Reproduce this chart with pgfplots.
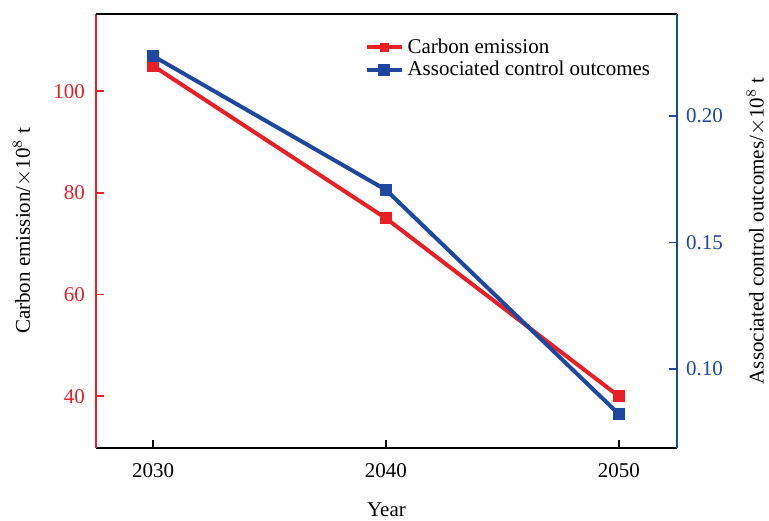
\documentclass[border=0pt]{standalone}
\usepackage{pgfplots}
\pgfplotsset{compat=1.18}
\usepackage{fontspec}
\setmainfont{Liberation Serif}

\definecolor{cred}{RGB}{232,32,38}
\definecolor{cblue}{RGB}{30,72,160}

\pgfplotsset{
  dualbase/.style={
    scale only axis,
    width=290.5pt, height=217pt,
    xmin=2027.55, xmax=2052.5,
    tick align=inside,
    major tick length=4pt,
    /pgf/number format/assume math mode=true,
    font=\fontsize{10.5}{12}\selectfont,
    tick label style={font=\fontsize{10.5}{12}\selectfont},
    label style={font=\fontsize{10.5}{12}\selectfont},
  }
}

\begin{document}
\begin{tikzpicture}
% Left axis: carbon emission (red)
\begin{axis}[
  dualbase,
  separate axis lines,
  axis x line*=box,
  axis y line*=left,
  x axis line style={black, line width=1pt},
  y axis line style={cred, line width=1pt},
  xtick={2030,2040,2050},
  xticklabels={2030,2040,2050},
  x tick style={black, line width=0.8pt},
  xtick pos=bottom,
  x tick label style={yshift=-4pt},
  ymin=29.8, ymax=115.2,
  ytick={40,60,80,100},
  y tick style={cred, line width=0.8pt},
  y tick label style={cred, xshift=-2pt},
  xlabel={Year},
  ylabel={Carbon emission/$\times$10$^{8}$ t},
  every axis x label/.style={at={(axis description cs:0.5,-0.143)}, anchor=center},
  every axis y label/.style={at={(axis description cs:-0.127,0.5)}, rotate=90, anchor=center},
]
\addplot[cred, line width=2pt, mark=square*, mark size=2pt, mark options={solid}]
  coordinates {(2030,105) (2040,75) (2050,40)};
\draw[black, line width=1pt] (rel axis cs:0,1) -- (rel axis cs:1,1);
\end{axis}
% Right axis: associated control outcomes (blue)
\begin{axis}[
  dualbase,
  axis x line=none,
  axis y line*=right,
  y axis line style={cblue, line width=1pt},
  ymin=0.0688, ymax=0.2403,
  ytick={0.10,0.15,0.20},
  yticklabel style={cblue, /pgf/number format/fixed, /pgf/number format/fixed zerofill, /pgf/number format/precision=2, xshift=1pt},
  y tick style={cblue, line width=0.8pt},
  ylabel={Associated control outcomes/$\times$10$^{8}$ t},
  every axis y label/.style={at={(axis description cs:1.136,0.5)}, rotate=90, anchor=center},
  legend style={at={(axis description cs:0.458,0.958)}, anchor=north west, draw=none, fill=none,
    font=\fontsize{10.5}{11}\selectfont, row sep=-1.5pt, inner sep=1pt},
  legend cell align=left,
  legend image code/.code={
    \draw[#1, line width=2pt] (0pt,0pt) -- (17.5pt,0pt);
    \draw[#1, mark=square*, mark size=2pt] plot coordinates {(8.75pt,0pt)};
  },
]
\addlegendimage{cred, mark=square*, mark size=2pt}
\addlegendentry{Carbon emission}
\addplot[cblue, line width=2pt, mark=square*, mark size=2pt, mark options={solid}]
  coordinates {(2030,0.2237) (2040,0.1708) (2050,0.0822)};
\addlegendentry{Associated control outcomes}
\end{axis}
\pgfresetboundingbox
\path (-48pt,-36pt) rectangle (336.5pt,224pt);
\end{tikzpicture}
\end{document}
